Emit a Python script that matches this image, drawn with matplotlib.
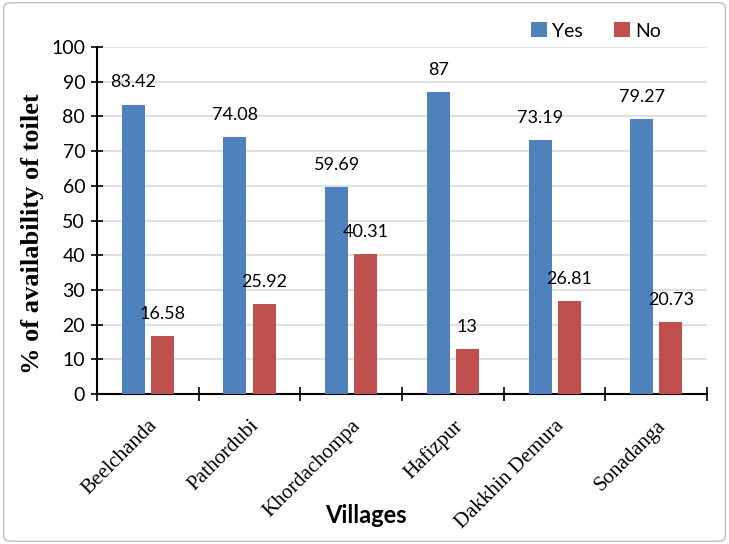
import matplotlib.pyplot as plt
import numpy as np
from matplotlib.patches import FancyBboxPatch

villages = ["Beelchanda", "Pathordubi", "Khordachompa", "Hafizpur", "Dakkhin Demura", "Sonadanga"]
yes_vals = [83.42, 74.08, 59.69, 87, 73.19, 79.27]
no_vals = [16.58, 25.92, 40.31, 13, 26.81, 20.73]
yes_labels = ["83.42", "74.08", "59.69", "87", "73.19", "79.27"]
no_labels = ["16.58", "25.92", "40.31", "13", "26.81", "20.73"]

SANS = ["Lato", "DejaVu Sans"]
SERIF = ["Liberation Serif", "DejaVu Serif"]


def main():
    fig = plt.figure(figsize=(7.29, 5.44), dpi=100)
    ax = fig.add_axes([0.133, 0.2757, 0.837, 0.6379])

    x = np.arange(len(villages))
    w = 0.226
    off = 0.143
    b1 = ax.bar(x - off, yes_vals, w, color="#4F81BD", label="Yes", zorder=3)
    b2 = ax.bar(x + off, no_vals, w, color="#C0504D", label="No", zorder=3)

    # value labels above each bar
    for bars, labs in ((b1, yes_labels), (b2, no_labels)):
        for r, s in zip(bars, labs):
            ax.annotate(s, (r.get_x() + r.get_width() / 2, r.get_height()),
                        xytext=(0, 16), textcoords="offset points",
                        ha="center", va="center", fontsize=13, family=SANS)

    ax.set_xlim(-0.5, len(villages) - 0.5)
    ax.set_ylim(0, 100)
    ax.set_yticks(range(0, 101, 10))
    ax.set_yticklabels([str(v) for v in range(0, 101, 10)], family=SANS, fontsize=14)
    ax.tick_params(axis="y", direction="inout", length=9, width=1.2, pad=4)

    ax.set_xticks(x)
    ax.set_xticklabels(villages, rotation=45, ha="right", va="top",
                       rotation_mode="anchor", family=SERIF, fontsize=15)
    ax.tick_params(axis="x", which="major", length=0, pad=16)
    ax.set_xticks(np.arange(-0.5, len(villages), 1.0), minor=True)
    ax.tick_params(axis="x", which="minor", direction="inout", length=10, width=1.2)

    ax.yaxis.grid(True, color="#D9D9D9", linewidth=1.2, zorder=0)
    ax.set_axisbelow(True)
    for s in ("top", "right"):
        ax.spines[s].set_visible(False)
    for s in ("left", "bottom"):
        ax.spines[s].set_linewidth(1.5)

    fig.text(0.044, 0.57, "% of availability of toilet", rotation=90, ha="center",
             va="center", fontsize=19, fontweight="bold", family=SERIF)
    fig.text(0.502, 0.053, "Villages", ha="center", va="center", fontsize=17,
             fontweight="bold", family=SANS)

    fig.legend(handles=[b1, b2], loc="center", bbox_to_anchor=(0.818, 0.943),
               ncol=2, frameon=False, prop={"family": SANS, "size": 14},
               handlelength=0.8, handleheight=0.8, handletextpad=0.3, columnspacing=1.6)

    border = FancyBboxPatch((0.005, 0.005), 0.99, 0.99, boxstyle="round,pad=0,rounding_size=0.01",
                            transform=fig.transFigure, fill=False, edgecolor="#BFBFBF",
                            linewidth=1)
    fig.patches.append(border)

    fig.savefig("out.png", dpi=100)


if __name__ == "__main__":
    main()
